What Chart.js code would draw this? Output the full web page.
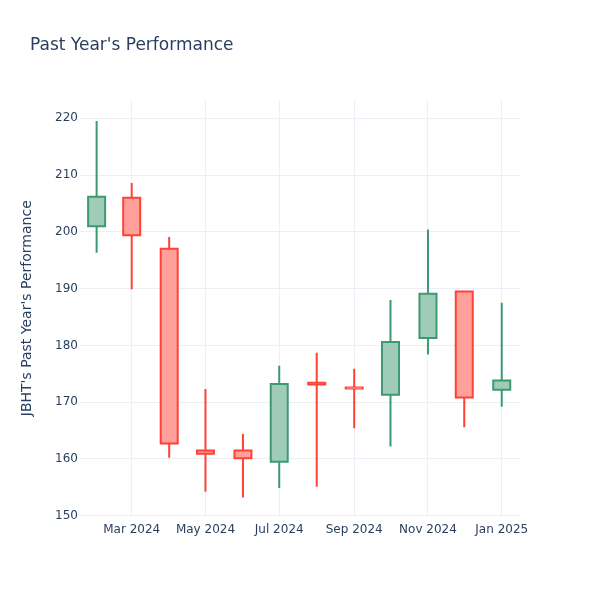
<!DOCTYPE html>
<html lang="en">
<head>
    <meta charset="UTF-8">
    <title>Past Year's Performance</title>
    <script src="https://cdn.jsdelivr.net/npm/chart.js"></script>
    <style>
        body { margin: 0; background: #fff; }
        #wrap { width: 600px; height: 600px; }
    </style>
</head>
<body>
    <div id="wrap"><canvas id="chart"></canvas></div>
    <script>
        // monthly candles, JBHT
        const months = ['2024-02-01', '2024-03-01', '2024-04-01', '2024-05-01', '2024-06-01', '2024-07-01',
                        '2024-08-01', '2024-09-01', '2024-10-01', '2024-11-01', '2024-12-01', '2025-01-01'];
        const openVals  = [201.0, 206.0, 197.0, 161.5, 161.5, 159.5, 173.4, 172.6, 171.3, 181.3, 189.5, 172.2];
        const highVals  = [219.5, 208.6, 199.1, 172.3, 164.4, 176.4, 178.7, 175.9, 188.0, 200.4, 189.5, 187.5];
        const lowVals   = [196.3, 189.9, 160.2, 154.2, 153.2, 154.9, 155.1, 165.4, 162.2, 178.4, 165.6, 169.2];
        const closeVals = [206.2, 199.4, 162.7, 160.9, 160.1, 173.2, 173.1, 172.4, 180.6, 189.1, 170.8, 173.8];
        const tickDates = ['2024-03-01', '2024-05-01', '2024-07-01', '2024-09-01', '2024-11-01', '2025-01-01'];
        const yTicks = [150, 160, 170, 180, 190, 200, 210, 220];
        const monthNames = ['Jan', 'Feb', 'Mar', 'Apr', 'May', 'Jun', 'Jul', 'Aug', 'Sep', 'Oct', 'Nov', 'Dec'];

        const DAY = 86400000;
        const base = Date.UTC(2024, 0, 1);
        const toDay = s => (Date.parse(s + 'T00:00:00Z') - base) / DAY;

        const up = months.map((m, i) => closeVals[i] >= openVals[i]);
        const lineCol = up.map(u => u ? '#3D9970' : '#FF4136');
        // half-transparent line colour over white
        const fillCol = up.map(u => u ? '#9ECCB8' : '#FFA09B');

        const ink = '#2a3f5f';
        const font = 'DejaVu Sans';

        const titlePlugin = {
            id: 'plotTitle',
            afterDraw(chart) {
                const ctx = chart.ctx;
                ctx.save();
                ctx.fillStyle = ink;
                ctx.font = '17px "' + font + '"';
                ctx.textBaseline = 'alphabetic';
                ctx.fillText("Past Year's Performance", 30, 49.5);
                ctx.restore();
            }
        };

        const bodyData = months.map((m, i) => ({ x: toDay(m), y: [openVals[i], closeVals[i]] }));

        new Chart(document.getElementById('chart'), {
            type: 'bar',
            data: {
                datasets: [{
                    label: 'fill',
                    data: bodyData,
                    backgroundColor: fillCol,
                    borderWidth: 0,
                    inflateAmount: -1,
                    barThickness: 17,
                    grouped: false
                }, {
                    label: 'outline',
                    data: bodyData,
                    backgroundColor: lineCol,
                    borderWidth: 0,
                    inflateAmount: 1,
                    barThickness: 17,
                    grouped: false
                }, {
                    label: 'wick',
                    data: months.map((m, i) => ({ x: toDay(m), y: [lowVals[i], highVals[i]] })),
                    backgroundColor: lineCol,
                    borderWidth: 0,
                    inflateAmount: 0,
                    barThickness: 2,
                    grouped: false
                }]
            },
            options: {
                responsive: true,
                maintainAspectRatio: false,
                animation: false,
                layout: { padding: { left: 0, right: 80, top: 100, bottom: 0 } },
                plugins: {
                    legend: { display: false },
                    tooltip: { enabled: false }
                },
                scales: {
                    x: {
                        type: 'linear',
                        min: 17.25,
                        max: 381.1,
                        offset: false,
                        grid: { color: '#EBF0F8', offset: false, drawTicks: false },
                        border: { display: false },
                        afterBuildTicks: scale => { scale.ticks = tickDates.map(d => ({ value: toDay(d) })); },
                        afterFit: scale => { scale.height = 83.5; },
                        ticks: {
                            autoSkip: false,
                            maxRotation: 0,
                            padding: 6,
                            color: ink,
                            font: { family: font, size: 12 },
                            callback: v => {
                                const d = new Date(base + v * DAY);
                                return monthNames[d.getUTCMonth()] + ' ' + d.getUTCFullYear();
                            }
                        }
                    },
                    y: {
                        min: 149.86,
                        max: 223.22,
                        grid: { color: '#EBF0F8', drawTicks: false },
                        border: { display: false },
                        afterBuildTicks: scale => { scale.ticks = yTicks.map(v => ({ value: v })); },
                        afterFit: scale => { scale.width = 80; },
                        ticks: {
                            padding: 2,
                            color: ink,
                            font: { family: font, size: 12 }
                        },
                        title: {
                            display: true,
                            text: "JBHT's Past Year's Performance",
                            color: ink,
                            font: { family: font, size: 14 },
                            padding: { top: 19, bottom: 0 }
                        }
                    }
                }
            },
            plugins: [titlePlugin]
        });
    </script>
</body>
</html>
